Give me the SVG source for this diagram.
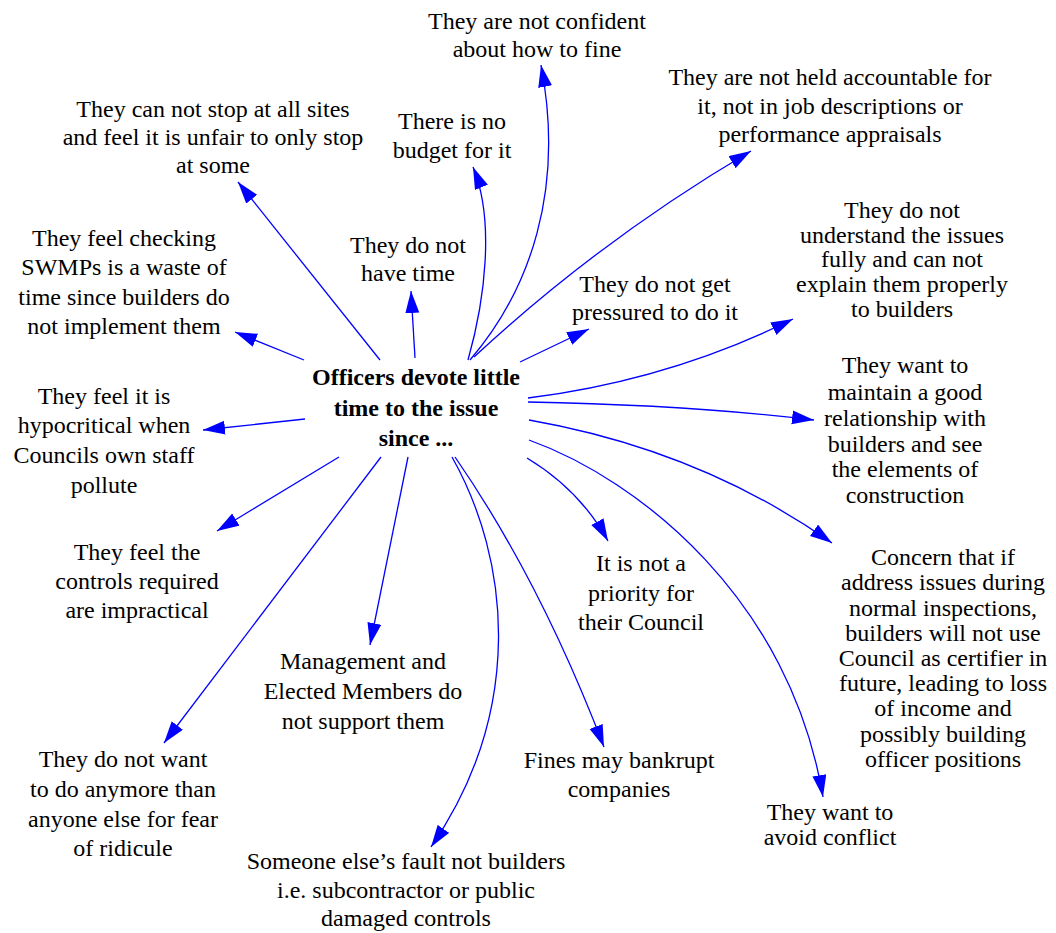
<svg xmlns="http://www.w3.org/2000/svg" width="1056" height="933" viewBox="0 0 1056 933">
<style>
text{font-family:"Liberation Serif","Times New Roman",serif;font-size:24px;fill:#000;text-anchor:middle}
.b{font-weight:bold}
.e{fill:none;stroke:#0000FF;stroke-width:1.3;marker-end:url(#ah)}
</style>
<defs>
<marker id="ah" markerUnits="userSpaceOnUse" markerWidth="23" markerHeight="15" refX="22" refY="7" orient="auto">
<path d="M0,0 L22,7 L0,14 z" fill="#0000FF"/>
</marker>
</defs>
<rect width="1056" height="933" fill="#fff"/>
<g id="connectors">
<path class="e" d="M470,360 C530,290 565,190 541,65"/>
<path class="e" d="M468,360 C485,300 495,220 473,167"/>
<path class="e" d="M474,357 Q600,240 751,151"/>
<path class="e" d="M380,360 L238,182"/>
<path class="e" d="M415,358 L411,291"/>
<path class="e" d="M304,360 L235,332"/>
<path class="e" d="M520,362 L589,329"/>
<path class="e" d="M528,398 Q670,380 793,319"/>
<path class="e" d="M528,402 Q690,405 814,420"/>
<path class="e" d="M529,420 Q700,450 832,543"/>
<path class="e" d="M529,440 C640,480 790,600 823,797"/>
<path class="e" d="M527,458 Q580,490 608,541"/>
<path class="e" d="M455,457 Q540,580 604,747"/>
<path class="e" d="M452,457 C510,560 525,710 431,847"/>
<path class="e" d="M408,457 L370,645"/>
<path class="e" d="M381,457 L164,743"/>
<path class="e" d="M339,457 L217,531"/>
<path class="e" d="M305,419 L203,430"/>
</g>
<g id="n-center"><text class="b" x="416" y="385">Officers devote little</text><text class="b" x="416" y="415.5">time to the issue</text><text class="b" x="416" y="446">since ...</text></g>
<g id="n-confident"><text x="537" y="29">They are not confident</text><text x="537" y="57">about how to fine</text></g>
<g id="n-accountable"><text x="830" y="85">They are not held accountable for</text><text x="830" y="114">it, not in job descriptions or</text><text x="830" y="142">performance appraisals</text></g>
<g id="n-stop"><text x="213" y="117">They can not stop at all sites</text><text x="213" y="145">and feel it is unfair to only stop</text><text x="213" y="173">at some</text></g>
<g id="n-budget"><text x="452" y="129">There is no</text><text x="452" y="158">budget for it</text></g>
<g id="n-time"><text x="408" y="253">They do not</text><text x="408" y="281">have time</text></g>
<g id="n-swmp"><text x="124" y="246">They feel checking</text><text x="124" y="275">SWMPs is a waste of</text><text x="124" y="305">time since builders do</text><text x="124" y="334">not implement them</text></g>
<g id="n-pressured"><text x="655" y="292">They do not get</text><text x="655" y="320">pressured to do it</text></g>
<g id="n-understand"><text x="902" y="218">They do not</text><text x="902" y="243">understand the issues</text><text x="902" y="267">fully and can not</text><text x="902" y="292">explain them properly</text><text x="902" y="317">to builders</text></g>
<g id="n-maintain"><text x="905" y="373">They want to</text><text x="905" y="400">maintain a good</text><text x="905" y="426">relationship with</text><text x="905" y="452">builders and see</text><text x="905" y="477">the elements of</text><text x="905" y="503">construction</text></g>
<g id="n-hypocritical"><text x="104" y="404">They feel it is</text><text x="104" y="433">hypocritical when</text><text x="104" y="463">Councils own staff</text><text x="104" y="493">pollute</text></g>
<g id="n-controls"><text x="137" y="560">They feel the</text><text x="137" y="589">controls required</text><text x="137" y="618">are impractical</text></g>
<g id="n-priority"><text x="641" y="571">It is not a</text><text x="641" y="601">priority for</text><text x="641" y="630">their Council</text></g>
<g id="n-concern"><text x="943" y="565">Concern that if</text><text x="943" y="590">address issues during</text><text x="943" y="616">normal inspections,</text><text x="943" y="641">builders will not use</text><text x="943" y="666">Council as certifier in</text><text x="943" y="691">future, leading to loss</text><text x="943" y="716">of income and</text><text x="943" y="742">possibly building</text><text x="943" y="767">officer positions</text></g>
<g id="n-management"><text x="363" y="669">Management and</text><text x="363" y="699">Elected Members do</text><text x="363" y="729">not support them</text></g>
<g id="n-ridicule"><text x="123" y="767">They do not want</text><text x="123" y="797">to do anymore than</text><text x="123" y="827">anyone else for fear</text><text x="123" y="856">of ridicule</text></g>
<g id="n-fines"><text x="619" y="768">Fines may bankrupt</text><text x="619" y="797">companies</text></g>
<g id="n-avoid"><text x="830" y="820">They want to</text><text x="830" y="845">avoid conflict</text></g>
<g id="n-someone"><text x="406" y="869">Someone else’s fault not builders</text><text x="406" y="898">i.e. subcontractor or public</text><text x="406" y="926">damaged controls</text></g>
</svg>
